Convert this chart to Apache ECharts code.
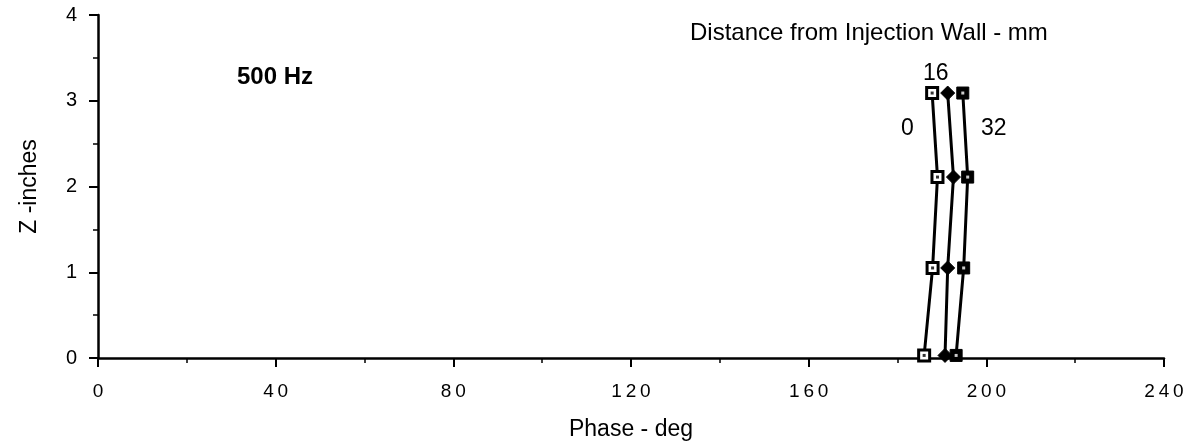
<!DOCTYPE html>
<html><head><meta charset="utf-8">
<script src="https://cdn.jsdelivr.net/npm/echarts@6/dist/echarts.min.js"></script>
<style>html,body{margin:0;padding:0;background:#fff}#c{width:1191px;height:448px}</style>
</head><body><div id="c"></div>
<script>
// Data
const zInches = [0.03, 1.05, 2.11, 3.09];
const phase0  = [186.0, 187.9, 189.0, 187.8];   // 0 mm
const phase16 = [190.7, 191.3, 192.6, 191.3];   // 16 mm
const phase32 = [193.2, 194.9, 195.8, 194.7];   // 32 mm
const seriesNames = ['0', '16', '32'];
const xTicks = [0, 40, 80, 120, 160, 200, 240];
const yTicks = [0, 1, 2, 3, 4];

const pts = arr => arr.map((x, i) => [x, zInches[i]]);
const font = '"Liberation Sans", Arial, sans-serif';
const chart = echarts.init(document.getElementById('c'), null, {renderer: 'canvas'});
const axisCommon = {
  axisLine: {show: true, lineStyle: {color: '#000', width: 2.5}},
  axisTick: {show: true, inside: false, length: 9, lineStyle: {color: '#000', width: 2}},
  minorTick: {show: true, splitNumber: 2, length: 5, lineStyle: {color: '#000', width: 1.5}},
  splitLine: {show: false},
  nameTextStyle: {color: '#000', fontFamily: font, fontSize: 23}
};
chart.setOption({
  animation: false,
  backgroundColor: '#fff',
  grid: {left: 98, right: 27, top: 15, bottom: 90, containLabel: false},
  xAxis: Object.assign({}, axisCommon, {
    type: 'value', min: xTicks[0], max: xTicks[xTicks.length - 1], interval: 40,
    name: 'Phase - deg', nameLocation: 'middle', nameGap: 60,
    axisLabel: {color: '#000', fontFamily: font, fontSize: 19, margin: 24,
      formatter: v => String(v).split('').join('\u2009')}
  }),
  yAxis: Object.assign({}, axisCommon, {
    type: 'value', min: yTicks[0], max: yTicks[yTicks.length - 1], interval: 1,
    name: 'Z -inches', nameLocation: 'middle', nameGap: 57, nameRotate: 90,
    axisLabel: {color: '#000', fontFamily: font, fontSize: 20, margin: 21}
  }),
  series: [
    {name: seriesNames[0], type: 'line', data: pts(phase0), symbol: 'rect', symbolSize: 11,
      lineStyle: {color: '#000', width: 3}, itemStyle: {color: '#fff', borderColor: '#000', borderWidth: 3}, z: 3},
    {name: seriesNames[0] + 'dot', type: 'scatter', data: pts(phase0), symbol: 'rect', symbolSize: 3,
      itemStyle: {color: '#000'}, z: 4, silent: true},
    {name: seriesNames[1], type: 'line', data: pts(phase16), symbol: 'diamond', symbolSize: 14,
      lineStyle: {color: '#000', width: 3}, itemStyle: {color: '#000', borderColor: '#000', borderWidth: 1}, z: 3},
    {name: seriesNames[2], type: 'line', data: pts(phase32), symbol: 'rect', symbolSize: 12,
      lineStyle: {color: '#000', width: 3}, itemStyle: {color: '#000', borderColor: '#000', borderWidth: 1}, z: 3},
    {name: seriesNames[2] + 'dot', type: 'scatter', data: pts(phase32), symbol: 'rect', symbolSize: 3,
      itemStyle: {color: '#fff'}, z: 4, silent: true}
  ],
  graphic: [
    {type: 'text', left: 690, top: 21, style: {text: 'Distance from Injection Wall - mm', fill: '#000', font: '24px ' + font}},
    {type: 'text', left: 923, top: 62, style: {text: '16', fill: '#000', font: '23px ' + font}},
    {type: 'text', left: 901, top: 117, style: {text: '0', fill: '#000', font: '23px ' + font}},
    {type: 'text', left: 981, top: 117, style: {text: '32', fill: '#000', font: '23px ' + font}},
    {type: 'text', left: 237, top: 65, style: {text: '500 Hz', fill: '#000', font: 'bold 24px ' + font}}
  ]
});
</script></body></html>
